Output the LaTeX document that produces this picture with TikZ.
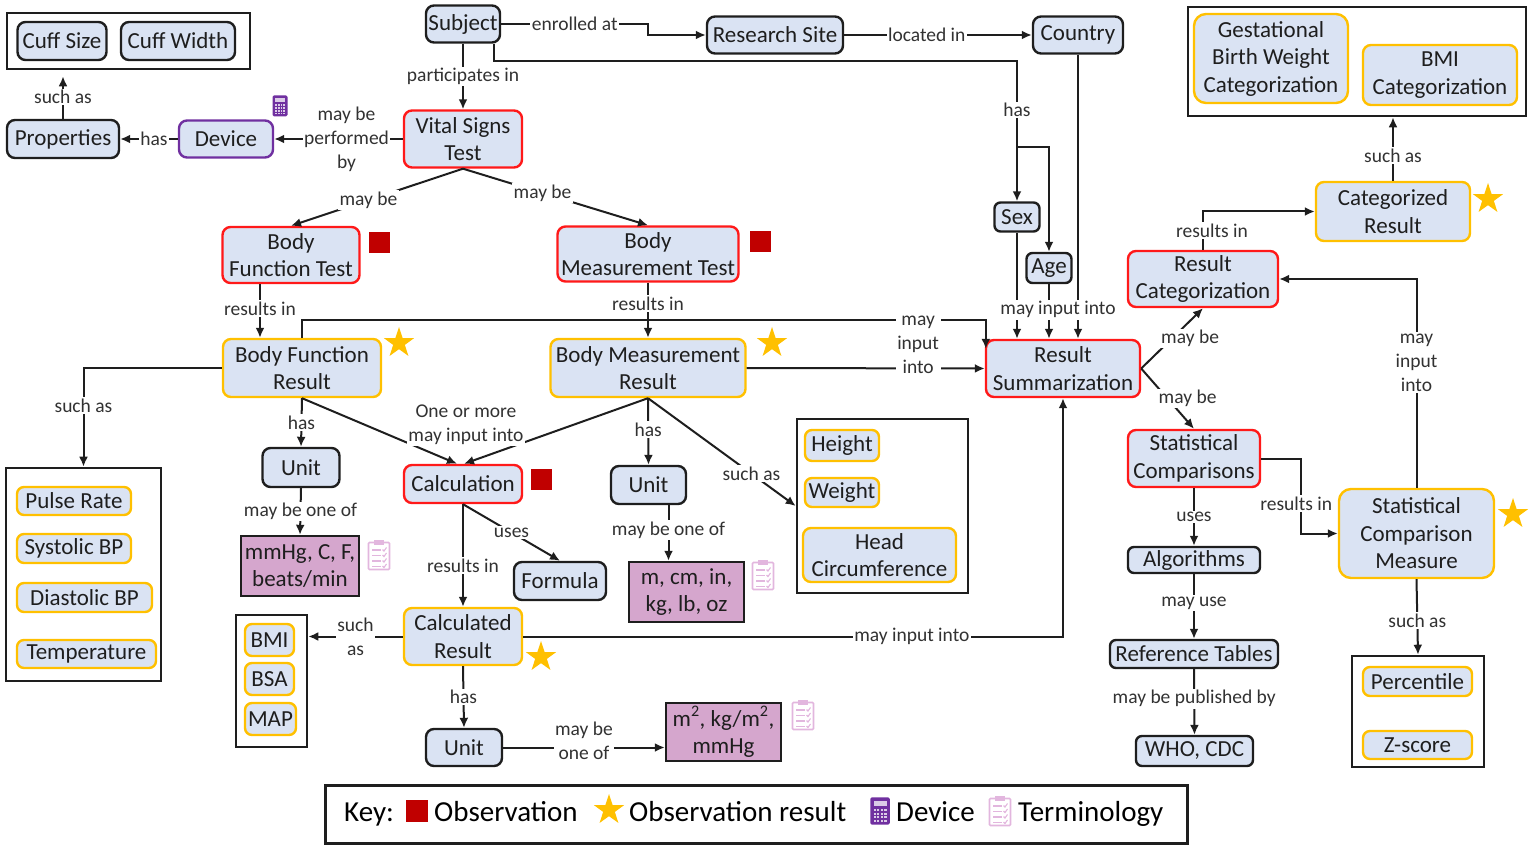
\documentclass[tikz,border=0pt]{standalone}
\usepackage{fontspec}
\setmainfont{Carlito}
\usepackage{xcolor}
\usepackage{tikz}
\usetikzlibrary{calc,shapes.geometric,arrows.meta}
\definecolor{boxblue}{RGB}{218,227,243}
\definecolor{obsred}{RGB}{192,0,0}
\definecolor{obsline}{RGB}{255,25,25}
\definecolor{resgold}{RGB}{255,192,0}
\definecolor{devpurple}{RGB}{112,48,160}
\definecolor{termfill}{RGB}{213,166,205}
\definecolor{termpink}{RGB}{226,182,222}
\definecolor{inkgray}{RGB}{30,30,30}
\definecolor{lblgray}{RGB}{50,50,50}

\begin{document}
\begin{tikzpicture}[x=1pt, y=-1pt,
                % node styles
                wh/.style 2 args={minimum width=#1pt, minimum height=#2pt},
                basenode/.style={rectangle, rounded corners=8pt, line width=2.4pt, fill=boxblue, text=inkgray, align=center, inner sep=1.5pt, font=\fontsize{23}{27.5}\selectfont},
                plainnode/.style={basenode, draw=inkgray},
                obsnode/.style={basenode, draw=obsline},
                resnode/.style={basenode, draw=resgold},
                devnode/.style={basenode, draw=devpurple},
                termnode/.style={basenode, rounded corners=0pt, draw=inkgray, fill=termfill},
                groupbox/.style={rectangle, draw=inkgray, line width=2.6pt, inner sep=0pt},
                % marks
                obsmark/.style={rectangle, fill=obsred, minimum size=21pt, inner sep=0pt},
                resmark/.style={star, star points=5, star point ratio=2.6, fill=resgold, minimum size=32pt, inner sep=0pt},
                calcicon/.pic={
                    \fill[devpurple, rounded corners=1.5pt] (-7.5,-10.5) rectangle (7.5,10.5);
                    \fill[white!75!devpurple] (-5,-8) rectangle (5,-3.5);
                    \foreach \cx in {0,...,3} \foreach \cy in {0,...,3}
                        \fill[white!75!devpurple] (-5+\cx*2.75,-1.5+\cy*2.75) rectangle ++(1.75,1.75);
                },
                clipicon/.pic={
                    \draw[termpink, line width=1.6pt, rounded corners=1pt] (-10.5,-12.5) rectangle (10.5,14.5);
                    \fill[termpink] (-5,-15) rectangle (5,-10);
                    \foreach \ly in {-5,0.5,6,11.5} {
                        \draw[termpink, line width=1.1pt] (-7,\ly) -- (1.5,\ly);
                        \draw[termpink, line width=1.1pt] (3.5,\ly-0.5) -- (5,\ly+1) -- (7.5,\ly-2.5);
                    }
                },
                % edges
                arr/.style={draw=inkgray, line width=2pt, -{Latex[length=10pt,width=9pt]}},
                lbl/.style={fill=white, text=lblgray, inner sep=1.5pt, align=center, font=\fontsize{19.5}{24}\selectfont},
                keytext/.style={text=black, inner sep=0pt, anchor=base west, font=\fontsize{29}{32}\selectfont}
            ]
                \useasboundingbox (0,0) rectangle (1535,850);

                % --- NODES ---
                % Top row
                \node[plainnode, wh={74}{37}] (subj) at (463,24) {Subject};
                \node[plainnode, wh={136}{37}] (site) at (775,35) {Research Site};
                \node[plainnode, wh={90}{37}] (country) at (1078,35) {Country};

                \node[groupbox, wh={243}{56}] (cuffbox) at (128.5,41) {};
                \node[plainnode, wh={89}{38}] (cuffsize) at (62,41) {Cuff Size};
                \node[plainnode, wh={114}{38}] (cuffwidth) at (178,41) {Cuff Width};

                \node[plainnode, wh={112}{38}] (props) at (63,139) {Properties};
                \node[devnode, wh={94}{37}] (device) at (226,139) {Device};
                \node[obsnode, wh={118}{57}] (vst) at (463,139) {Vital Signs\\Test};

                \node[plainnode, wh={45}{29}, rounded corners=6pt] (sex) at (1017,217) {Sex};
                \node[plainnode, wh={45}{30}, rounded corners=6pt] (age) at (1049,268) {Age};

                % Tests and results
                \node[obsnode, wh={137}{56}] (bft) at (291,255) {Body\\Function Test};
                \node[obsnode, wh={181}{55}] (bmt) at (648,254) {Body\\Measurement Test};
                \node[resnode, wh={158}{58}] (bfr) at (302,368) {Body Function\\Result};
                \node[resnode, wh={195}{58}] (bmr) at (648,368) {Body Measurement\\Result};
                \node[obsnode, wh={154}{57}] (rs) at (1063,368.5) {Result\\Summarization};

                % Vital signs list
                \node[groupbox, wh={155}{213}] (vitbox) at (83.5,574.5) {};
                \node[resnode, wh={114}{28}, rounded corners=7pt] (pulse) at (74,501) {Pulse Rate};
                \node[resnode, wh={114}{29}, rounded corners=7pt] (systolic) at (74,548.5) {Systolic BP};
                \node[resnode, wh={135}{29}, rounded corners=7pt] (diastolic) at (84.5,597.5) {Diastolic BP};
                \node[resnode, wh={139}{28}, rounded corners=7pt] (temp) at (86.5,654) {Temperature};

                % Units and calculation
                \node[plainnode, wh={77}{39}] (unit1) at (301,467.5) {Unit};
                \node[termnode, wh={118}{60}] (mmhg) at (300,566) {mmHg, C, F,\\beats/min};
                \node[obsnode, wh={118}{38}] (calc) at (463,484) {Calculation};
                \node[plainnode, wh={75}{38}] (unit2) at (648.5,485) {Unit};
                \node[termnode, wh={115}{60}] (mcm) at (686.5,592) {m, cm, in,\\kg, lb, oz};
                \node[plainnode, wh={92}{38}] (formula) at (560,581) {Formula};
                \node[resnode, wh={118}{57}] (cres) at (463,636.5) {Calculated\\Result};
                \node[plainnode, wh={76}{37}] (unit3) at (464,747.5) {Unit};
                \node[termnode, wh={115}{58}] (m2) at (723.5,732) {m\textsuperscript{2}, kg/m\textsuperscript{2},\\mmHg};

                % Body measurement list
                \node[groupbox, wh={171}{174}] (hbox) at (882.5,506) {};
                \node[resnode, wh={74}{31}, rounded corners=7pt] (height) at (842,445.5) {Height};
                \node[resnode, wh={74}{29}, rounded corners=7pt] (weight) at (842,492.5) {Weight};
                \node[resnode, wh={153}{54}] (headc) at (879.5,555) {Head\\Circumference};

                % Calculated result list
                \node[groupbox, wh={71}{132}] (bmibox) at (271.5,681) {};
                \node[resnode, wh={49}{32}, rounded corners=7pt] (bmi) at (269.5,640) {BMI};
                \node[resnode, wh={49}{32}, rounded corners=7pt] (bsa) at (269.5,679) {BSA};
                \node[resnode, wh={51}{32}, rounded corners=7pt] (map) at (270.5,719) {MAP};

                % Right side
                \node[groupbox, wh={338}{109}] (catbox) at (1357,61.5) {};
                \node[resnode, wh={154}{89}, rounded corners=12pt] (gest) at (1271,58.5) {Gestational\\Birth Weight\\Categorization};
                \node[resnode, wh={154}{60}] (bmicat) at (1440,75) {BMI\\Categorization};
                \node[resnode, wh={154}{59}] (catr) at (1393,211.5) {Categorized\\Result};
                \node[obsnode, wh={150}{56}] (rc) at (1203,279) {Result\\Categorization};
                \node[obsnode, wh={132}{57}] (sc) at (1194,458.5) {Statistical\\Comparisons};
                \node[resnode, wh={155}{89}, rounded corners=12pt] (scm) at (1416.5,533.5) {Statistical\\Comparison\\Measure};
                \node[plainnode, wh={132}{26}, rounded corners=6pt] (algo) at (1194,560) {Algorithms};
                \node[plainnode, wh={168}{28}, rounded corners=6pt] (reft) at (1194,654) {Reference Tables};
                \node[plainnode, wh={117}{30}, rounded corners=6pt] (who) at (1194.5,751) {WHO, CDC};

                \node[groupbox, wh={132}{111}] (scmbox) at (1418,711.5) {};
                \node[resnode, wh={109}{29}, rounded corners=7pt] (pct) at (1417.5,681.5) {Percentile};
                \node[resnode, wh={109}{28}, rounded corners=7pt] (zscore) at (1417.5,745) {Z-score};

                % --- MARKS ---
                \node[obsmark] (bftmark) at (379,243) {};
                \node[obsmark] (bmtmark) at (760,242) {};
                \node[obsmark] (calcmark) at (541,479) {};
                \node[resmark] (bfrmark) at (399,343) {};
                \node[resmark] (bmrmark) at (772,343) {};
                \node[resmark] (cresmark) at (541,657) {};
                \node[resmark] (catrmark) at (1488,199) {};
                \node[resmark] (scmmark) at (1513,514) {};
                \pic at (280,106) {calcicon};
                \pic at (379,555) {clipicon};
                \pic at (763,575) {clipicon};
                \pic at (803,715) {clipicon};

                % --- EDGES ---
                \coordinate (hasturn) at (1017,61);
                \coordinate (hasfork) at (1017,147);
                \coordinate (bftout) at ([xshift=-31pt]bft.south);
                \coordinate (unit2out) at ([xshift=20pt]unit2.south);

                \draw[arr] (subj.east) -- node[lbl]{enrolled at} ++(147,0) |- (site.west);
                \draw[arr] (site.east) -- node[lbl, pos=0.44]{located in} (country.west);
                \draw[arr] ([xshift=-7pt]subj.south east) |- (hasturn) -- node[lbl, pos=0.35]{has} (sex.north);
                \draw[arr] (hasfork) -| (age.north);
                \draw[arr] (subj.south) -- node[lbl]{participates in} (vst.north);
                \draw[arr] (vst.west) -- node[lbl, xshift=8pt]{may be\\performed\\by} (device.east);
                \draw[arr] (device.west) -- node[lbl, xshift=5pt]{has} (props.east);
                \draw[arr, shorten >=6pt] (props.north) -- node[lbl, pos=0.45]{such as} (props.north |- cuffbox.south);

                \draw[arr] (vst.south) -- node[lbl, pos=0.55]{may be} (bft.north);
                \draw[arr] (vst.south) -- node[lbl, pos=0.43]{may be} (bmt.north);
                \draw[arr] (bftout) -- node[lbl, pos=0.45]{results in} (bftout |- bfr.north);
                \draw[arr] (bmt.south) -- node[lbl, pos=0.38]{results in} (bmt.south |- bmr.north);

                % into result summarization
                \draw[arr] (bfr.north) -- ++(0,-18) -| ($(rs.north west)+(1,10)$);
                \draw[arr] (bmr.east) -- node[lbl, pos=0.72, yshift=24pt]{may\\input\\into} (rs.west);
                \draw[arr] (sex.south) -- (sex.south |- rs.north);
                \draw[arr] (country.south) -- (country.south |- rs.north);
                \draw[arr] (age.south) -- node[lbl, pos=0.47, xshift=9pt]{may input into} (age.south |- rs.north);
                \draw[arr] (cres.east) -| node[lbl, pos=0.36]{may input into} (rs.south);

                % body function result
                \draw[arr] (bfr.west) -| node[lbl, pos=0.69]{such as} (vitbox.north);
                \draw[arr] (bfr.south) -- node[lbl]{has} (unit1.north);
                \draw[arr] (unit1.south) -- node[lbl]{may be one of} (mmhg.north);
                \draw[arr] (bfr.south) -- ([xshift=-6pt]calc.north);

                % body measurement result
                \draw[arr] (bmr.south) -- ([xshift=1pt]calc.north);
                \draw[arr] (bmr.south) -- node[lbl, pos=0.47]{has} (unit2.north);
                \draw[arr] (unit2out) -- node[lbl, pos=0.45]{may be one of} (unit2out |- mcm.north);
                \draw[arr] (bmr.south) -- node[lbl, pos=0.7]{such as} (hbox.west);
                \node[lbl] (calcin) at (466,425) {One or more\\may input into};

                % calculation
                \draw[arr] (calc.south) -- node[lbl, pos=0.6]{results in} (cres.north);
                \draw[arr] (calc.south) -- node[lbl]{uses} (formula.north);
                \draw[arr] (cres.west) -- node[lbl]{such\\as} (cres.west -| bmibox.east);
                \draw[arr] (cres.south) -- node[lbl]{has} (unit3.north);
                \draw[arr] (unit3.east) -- node[lbl, yshift=7pt]{may be\\one of} (unit3.east -| m2.west);

                % right side
                \draw[arr] (rs.east) -- node[lbl, xshift=18pt]{may be} (rc.south);
                \draw[arr] (rs.east) -- node[lbl, xshift=20pt]{may be} (sc.north);
                \draw[arr] (rc.north) |- node[lbl, pos=0.25, xshift=9pt]{results in} (catr.west);
                \draw[arr] (catr.north) -- node[lbl, pos=0.4]{such as} (catr.north |- catbox.south);
                \draw[arr] (scm.north) |- node[lbl, pos=0.3]{may\\input\\into} (rc.east);
                \draw[arr] (sc.east) -- ++(40,0) |- node[lbl, pos=0.3, xshift=-5pt]{results in} (scm.west);
                \draw[arr] (sc.south) -- node[lbl]{uses} (algo.north);
                \draw[arr] (algo.south) -- node[lbl, pos=0.45]{may use} (reft.north);
                \draw[arr] (reft.south) -- node[lbl, pos=0.45]{may be published by} (who.north);
                \draw[arr] (scm.south) -- node[lbl, pos=0.55]{such as} (scmbox.north);

                % --- KEY ---
                \node[groupbox, wh={862}{58}, line width=3pt] (keybox) at (756,814) {};
                \node[keytext] (keylbl) at (344,821) {Key:};
                \node[obsmark, minimum size=22pt] (keyobs) at (417,811) {};
                \node[keytext] (keyobstxt) at (434,821) {Observation};
                \node[resmark] (keyres) at (609,810) {};
                \node[keytext] (keyrestxt) at (629,821) {Observation result};
                \pic[scale=1.3] at (880,811) {calcicon};
                \node[keytext] (keydevtxt) at (896,821) {Device};
                \pic at (1000,811) {clipicon};
                \node[keytext] (keytermtxt) at (1018,821) {Terminology};

            \end{tikzpicture}
\end{document}
